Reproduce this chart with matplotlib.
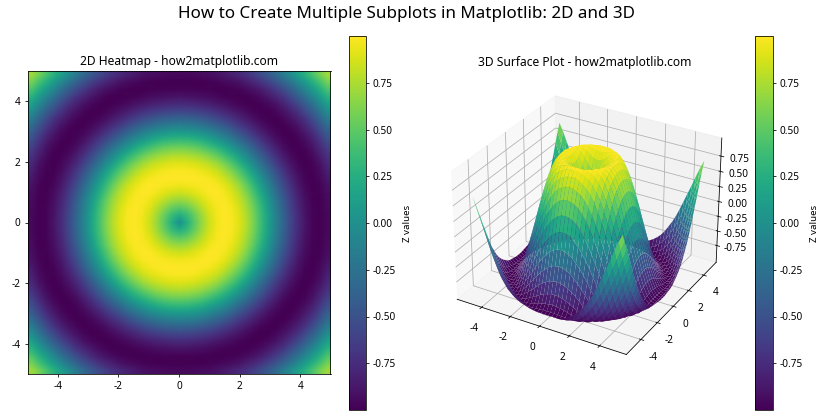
import numpy as np
import matplotlib
matplotlib.use("Agg")
import matplotlib.pyplot as plt

plt.rcParams["font.family"] = ["Noto Sans", "DejaVu Sans"]
plt.rcParams["axes.unicode_minus"] = False
plt.rcParams["xtick.labelsize"] = 10.3
plt.rcParams["ytick.labelsize"] = 10.3

# z, one quadrant in steps of 0.25, upper triangle only
# (the rings are symmetric, so the other quadrants are mirrored below)
z_rows = [
    [0, .25, .48, .68, .84, .95, 1.0, .98, .91, .78, .60, .38, .14, -.11, -.35, -.57, -.76, -.89, -.98, -1.0, -.96],
    [.35, .53, .71, .86, .96, 1.0, .98, .90, .77, .59, .37, .13, -.12, -.36, -.58, -.76, -.90, -.98, -1.0, -.96],
    [.65, .78, .90, .97, 1.0, .97, .88, .74, .56, .34, .10, -.15, -.38, -.60, -.78, -.91, -.98, -1.0, -.95],
    [.87, .95, .99, .99, .94, .84, .70, .51, .29, .05, -.19, -.42, -.63, -.80, -.92, -.99, -1.0, -.94],
    [.99, 1.0, .97, .90, .79, .63, .43, .21, -.02, -.26, -.48, -.67, -.83, -.94, -.99, -.99, -.93],
    [.98, .93, .84, .71, .54, .34, .12, -.11, -.33, -.54, -.72, -.87, -.96, -1.0, -.98, -.91],
    [.85, .74, .60, .42, .23, .01, -.21, -.42, -.62, -.78, -.90, -.98, -1.0, -.96, -.87],
    [.62, .47, .29, .09, -.12, -.32, -.52, -.69, -.84, -.94, -.99, -.99, -.94, -.83],
    [.31, .13, -.06, -.26, -.45, -.63, -.78, -.89, -.97, -1.0, -.98, -.91, -.78],
    [-.04, -.22, -.40, -.57, -.72, -.85, -.94, -.99, -1.0, -.95, -.85, -.72],
    [-.38, -.54, -.69, -.82, -.92, -.98, -1.0, -.98, -.91, -.79, -.64],
    [-.68, -.80, -.90, -.97, -1.0, -.99, -.94, -.85, -.71, -.54],
    [-.89, -.96, -.99, -1.0, -.96, -.88, -.77, -.61, -.44],
    [-.99, -1.0, -.97, -.91, -.80, -.67, -.50, -.32],
    [-.97, -.91, -.82, -.71, -.55, -.37, -.18],
    [-.83, -.72, -.57, -.41, -.23, -.03],
    [-.58, -.43, -.26, -.07, .12],
    [-.27, -.09, .09, .27],
    [.08, .25, .43],
    [.41, .58],
    [.71],
]
xs = np.linspace(-5, 5, 41)
cbar_ticks = [-0.75, -0.5, -0.25, 0, 0.25, 0.5, 0.75]

# build the full grid from the triangle
quad = np.zeros((21, 21))
for j, row in enumerate(z_rows):
    quad[j, j:] = row
    quad[j:, j] = row
left = np.hstack([quad[:, :0:-1], quad])
Z = np.vstack([left[:0:-1], left])
X, Y = np.meshgrid(xs, xs)

fig = plt.figure(figsize=(12, 6), dpi=70)
fig.suptitle("How to Create Multiple Subplots in Matplotlib: 2D and 3D", fontsize=17.5, x=406.5/840, y=0.985)

ax1 = fig.add_axes([27/840, 46/420, 304/840, 303/420])
im = ax1.imshow(Z, extent=[-5, 5, -5, 5], origin="lower", cmap="viridis", interpolation="bilinear", vmin=-1, vmax=1)
ax1.set_title("2D Heatmap - how2matplotlib.com", fontsize=12.4)
cax1 = fig.add_axes([349/840, 10/420, 17/840, 374/420])
cb1 = fig.colorbar(im, cax=cax1)
cb1.set_ticks(cbar_ticks)
cb1.set_label("Z values", labelpad=7)

ax2 = fig.add_axes([434.5/840, 10/420, 301/840, 374/420], projection="3d")
surf = ax2.plot_surface(X, Y, Z, cmap="viridis", vmin=-1, vmax=1)
ax2.set_title("3D Surface Plot - how2matplotlib.com", fontsize=12.4, pad=7)
ax2.set_zticks(cbar_ticks)
cax2 = fig.add_axes([755/840, 10/420, 18/840, 374/420])
cb2 = fig.colorbar(surf, cax=cax2)
cb2.set_ticks(cbar_ticks)
cb2.set_label("Z values", labelpad=7)

fig.savefig("out.png")
